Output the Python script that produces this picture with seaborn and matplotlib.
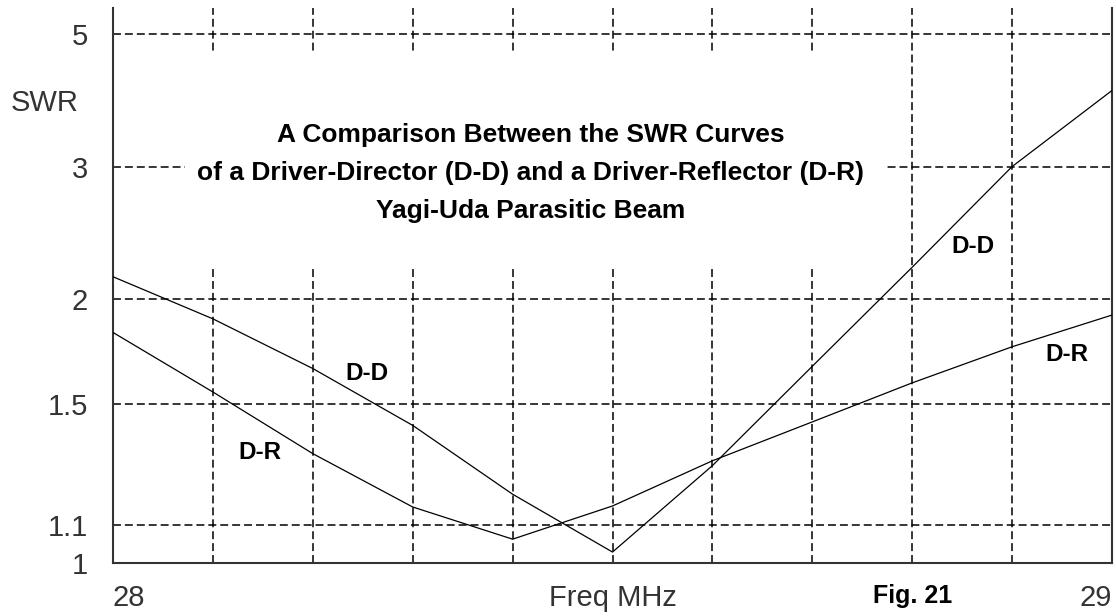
import numpy as np
import pandas as pd
import matplotlib
matplotlib.use("Agg")
import matplotlib.pyplot as plt
from matplotlib.patches import Rectangle
import seaborn as sns

# ---- data ----
freq = [28.0, 28.1, 28.2, 28.3, 28.4, 28.5, 28.6, 28.7, 28.8, 28.9, 29.0]
swr_dd = [2.13, 1.89, 1.65, 1.42, 1.19, 1.028, 1.28, 1.66, 2.19, 3.0, 3.95]
swr_dr = [1.82, 1.55, 1.32, 1.152, 1.062, 1.155, 1.296, 1.433, 1.588, 1.75, 1.91]
series_names = ["D-D", "D-R"]

yticks = [1, 1.1, 1.5, 2, 3, 5]
ytick_labels = ["1", "1.1", "1.5", "2", "3", "5"]
xgrid = [28.1, 28.2, 28.3, 28.4, 28.5, 28.6, 28.7, 28.8, 28.9]
xticks = [28.0, 28.5, 28.8, 29.0]
xtick_labels = ["28", "Freq MHz", "Fig. 21", "29"]

title_lines = ["A Comparison Between the SWR Curves",
               "of a Driver-Director (D-D) and a Driver-Reflector (D-R)",
               "Yagi-Uda Parasitic Beam"]
curve_labels = [("D-D", 28.254, 1.63), ("D-R", 28.147, 1.323),
                ("D-D", 28.861, 2.33), ("D-R", 28.955, 1.712)]

df = pd.DataFrame({
    "freq": freq * 2,
    "swr": swr_dd + swr_dr,
    "series": [series_names[0]] * len(freq) + [series_names[1]] * len(freq),
})

sns.set_theme(style="white")
plt.rcParams["font.family"] = ["Liberation Sans", "DejaVu Sans"]

fig = plt.figure(figsize=(11.16, 6.16), dpi=100)
ax = fig.add_axes([113 / 1116, 1 - 563 / 616, 999 / 1116, 555 / 616])

def fwd(s):
    s = np.asarray(s, dtype=float)
    return (s - 1) / (s + 1)

def inv(r):
    r = np.asarray(r, dtype=float)
    return (1 + r) / (1 - r)

ax.set_yscale("function", functions=(fwd, inv))

sns.lineplot(data=df, x="freq", y="swr", hue="series",
             palette=["black", "black"], linewidth=0.9, ax=ax,
             legend=False, zorder=3)

ax.set_xlim(28.0, 29.0)
ax.set_ylim(1.0, inv(0.70))

ax.xaxis.remove_overlapping_locs = False
ax.set_yticks(yticks)
ax.set_yticklabels(ytick_labels)
ax.set_xticks(xticks)
ax.set_xticklabels(xtick_labels)
ax.set_xticks(xgrid, minor=True)
ax.tick_params(axis="both", which="both", length=0)
ax.tick_params(axis="y", labelsize=21, pad=18, labelcolor="#333333")
ax.tick_params(axis="x", labelsize=21, pad=15, labelcolor="#333333")
xl = ax.get_xticklabels()
xl[0].set_ha("left")
xl[-1].set_ha("right")
xl[2].set_fontweight("bold")
xl[2].set_fontsize(18)
xl[2].set_color("black")

ax.set_xlabel("")
ax.set_ylabel("")

ax.set_axisbelow(True)
grid_kw = dict(color="black", linewidth=1.1, linestyle=(0, (5.2, 2.6)))
ax.xaxis.grid(True, which="minor", **grid_kw)
ax.xaxis.grid(False, which="major")
ax.yaxis.grid(True, which="major", **grid_kw)

for side in ["left", "bottom", "right"]:
    ax.spines[side].set_visible(True)
    ax.spines[side].set_color("#333333")
    ax.spines[side].set_linewidth(1.5)
ax.spines["top"].set_visible(False)

# white block behind the title text
ax.add_patch(Rectangle((0.072, 0.532), 0.701, 0.389, transform=ax.transAxes,
                       facecolor="white", edgecolor="none", zorder=1))

title_y = [0.771, 0.703, 0.634]
for line, ty in zip(title_lines, title_y):
    ax.text(28.418, ty, line, transform=ax.get_xaxis_transform(),
            ha="center", va="center", fontsize=19, fontweight="bold",
            color="black", zorder=4)

for text, x, y in curve_labels:
    ax.text(x, y, text, ha="center", va="center", fontsize=17.5,
            fontweight="bold", color="black", zorder=4)

ax.text(-0.068, 0.829, "SWR", transform=ax.transAxes, ha="center",
        va="center", fontsize=21, color="#333333")

fig.savefig("out.png", dpi=100)
